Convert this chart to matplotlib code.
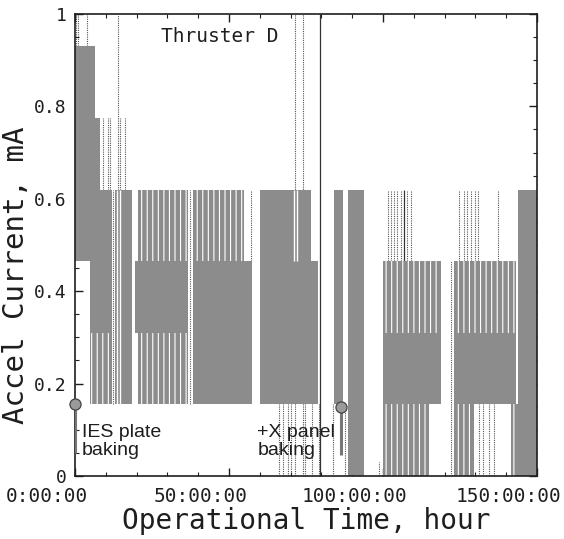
import numpy as np
import matplotlib
matplotlib.use("Agg")
import matplotlib.pyplot as plt
import matplotlib.transforms as mtransforms

# accel current telemetry (hours, mA)
# solid gray bands = current switching fast between two levels
solid_t0 = [0.0, 6.5, 4.9, 8.2, 13.0, 19.6, 38.4, 60.2, 60.2, 84.0, 88.8, 100.0, 123.0, 143.8]
solid_t1 = [6.5, 8.2, 12.0, 12.0, 18.5, 36.8, 57.6, 79.0, 76.5, 86.9, 93.7, 118.8, 143.3, 150.0]
solid_lo = [0.465, 0.465, 0.31, 0.465, 0.155, 0.31, 0.155, 0.155, 0.465, 0.155, 0.0, 0.155, 0.155, 0.0]
solid_hi = [0.93, 0.775, 0.465, 0.62, 0.62, 0.465, 0.465, 0.465, 0.62, 0.62, 0.62, 0.31, 0.31, 0.62]

# striped bands = less frequent switching
stripe_t0 = [4.9, 20.5, 20.5, 38.4, 100.0, 100.0, 123.0, 123.0, 141.6]
stripe_t1 = [12.0, 36.8, 36.8, 55.0, 118.8, 115.0, 143.3, 129.5, 143.8]
stripe_lo = [0.155, 0.465, 0.155, 0.465, 0.31, 0.0, 0.31, 0.0, 0.0]
stripe_hi = [0.31, 0.62, 0.31, 0.62, 0.465, 0.155, 0.465, 0.155, 0.155]

# single spikes
spike_t = [0.4, 1.0, 3.9, 9.1, 10.7, 11.4, 12.4, 13.8, 14.6, 16.3, 37.4, 57.0,
           66.1, 67.7, 69.3, 70.3, 71.6, 73.9, 74.8, 76.8, 79.1, 83.9, 87.6, 98.6,
           101.5, 102.5, 103.5, 104.5, 105.8, 107.7, 109.0, 122.0,
           124.6, 126.3, 127.2, 128.5, 129.8, 130.8, 131.1, 132.4, 134.4, 136.0, 137.3]
spike_lo = [0.93, 0.93, 0.93, 0.62, 0.62, 0.62, 0.155, 0.62, 0.62, 0.62, 0.155, 0.465,
            0.0, 0.0, 0.0, 0.0, 0.0, 0.0, 0.0, 0.0, 0.0, 0.0, 0.0, 0.0,
            0.465, 0.465, 0.465, 0.465, 0.465, 0.465, 0.465, 0.0,
            0.465, 0.465, 0.465, 0.465, 0.465, 0.465, 0.0, 0.0, 0.0, 0.0, 0.465]
spike_hi = [1.0, 1.0, 1.0, 0.775, 0.775, 0.775, 0.62, 1.0, 0.775, 0.775, 0.62, 0.62,
            0.155, 0.155, 0.155, 0.155, 1.0, 1.0, 0.155, 0.155, 0.155, 0.155, 0.155, 0.03,
            0.62, 0.62, 0.62, 0.62, 0.62, 0.62, 0.62, 0.465,
            0.62, 0.62, 0.62, 0.62, 0.62, 0.62, 0.155, 0.155, 0.155, 0.155, 0.62]
solid_spike_t = [79.7, 106.7]
solid_spike_lo = [0.0, 0.465]
solid_spike_hi = [1.0, 0.62]

# short drop-outs inside the solid bands
gap_t = [13.7, 14.6, 71.0, 72.2]
gap_lo = [0.155, 0.155, 0.465, 0.465]
gap_hi = [0.62, 0.62, 0.62, 0.62]

# baking events
bake_t = [0.0, 86.4]
bake_y = [0.155, 0.15]
bake_end = [0.05, 0.046]
bake_text = ["IES plate\nbaking", "+X panel\nbaking"]
bake_text_t = [2.3, 59.2]

plt.rcParams["hatch.linewidth"] = 0.8
gray = "#8c8c8c"
ink = "#1e1e1e"

fig = plt.figure(figsize=(5.64, 5.39), dpi=100)
ax = fig.add_axes([0.133, 0.117, 0.819, 0.857])

ax.vlines(spike_t, spike_lo, spike_hi, colors="#555555", lw=0.8,
          linestyles=(0, (1, 1)), zorder=1)
ax.vlines(solid_spike_t, solid_spike_lo, solid_spike_hi, colors="#333333", lw=0.9, zorder=1)

w = np.array(solid_t1) - np.array(solid_t0)
h = np.array(solid_hi) - np.array(solid_lo)
ax.bar(solid_t0, h, width=w, bottom=solid_lo, align="edge", color=gray, lw=0, zorder=2)

w = np.array(stripe_t1) - np.array(stripe_t0)
h = np.array(stripe_hi) - np.array(stripe_lo)
ax.bar(stripe_t0, h, width=w, bottom=stripe_lo, align="edge", facecolor=gray,
       edgecolor="white", hatch="|||", lw=0, zorder=2)

ax.vlines(gap_t, gap_lo, gap_hi, colors="white", lw=1.0, zorder=3)

ax.vlines(bake_t, bake_end, bake_y, colors="#777777", lw=2.2, zorder=4)
ax.plot(bake_t, bake_y, "o", ms=8, mfc="#9a9a9a", mec="#444444", mew=0.9,
        zorder=5, clip_on=False)
for t, s in zip(bake_text_t, bake_text):
    ax.text(t, 0.074, s, family="Liberation Sans", fontsize=14, color=ink,
            ha="left", va="center", linespacing=1.05, zorder=6)

ax.text(28, 0.952, "Thruster D", family="DejaVu Sans Mono", fontsize=14,
        color=ink, ha="left", va="center")

ax.set_xlim(0, 150)
ax.set_ylim(0, 1)
ax.set_xticks([0, 50, 100, 150])
ax.set_xticklabels(["0:00:00", "50:00:00", "100:00:00", "150:00:00"])
ax.set_xticks(np.arange(0, 151, 10), minor=True)
ax.set_yticks([0, 0.2, 0.4, 0.6, 0.8, 1.0])
ax.set_yticklabels(["0", "0.2", "0.4", "0.6", "0.8", "1"])
ax.set_yticks(np.arange(0, 1.001, 0.05), minor=True)
ax.tick_params(which="both", direction="in", top=True, right=True, color=ink)
ax.tick_params(which="major", length=6, width=1.0, pad=6, labelcolor=ink)
ax.tick_params(axis="x", which="major", labelsize=14, pad=8)
ax.tick_params(axis="y", which="major", labelsize=13)
ax.tick_params(which="minor", length=3, width=0.8)
for lab in ax.get_xticklabels() + ax.get_yticklabels():
    lab.set_family("DejaVu Sans Mono")

# the printed time labels sit left of their ticks
shift = mtransforms.ScaledTranslation(-0.28, 0, fig.dpi_scale_trans)
for lab in ax.get_xticklabels():
    lab.set_transform(lab.get_transform() + shift)

for sp in ax.spines.values():
    sp.set_linewidth(1.2)
    sp.set_color(ink)

ax.set_xlabel("Operational Time, hour", family="DejaVu Sans Mono", fontsize=20,
              color=ink, va="center")
ax.xaxis.set_label_coords(0.5, -0.097)
ax.set_ylabel("Accel Current, mA", family="DejaVu Sans Mono", fontsize=21,
              color=ink, va="center")
ax.yaxis.set_label_coords(-0.127, 0.435)

fig.savefig("out.png", dpi=100)
